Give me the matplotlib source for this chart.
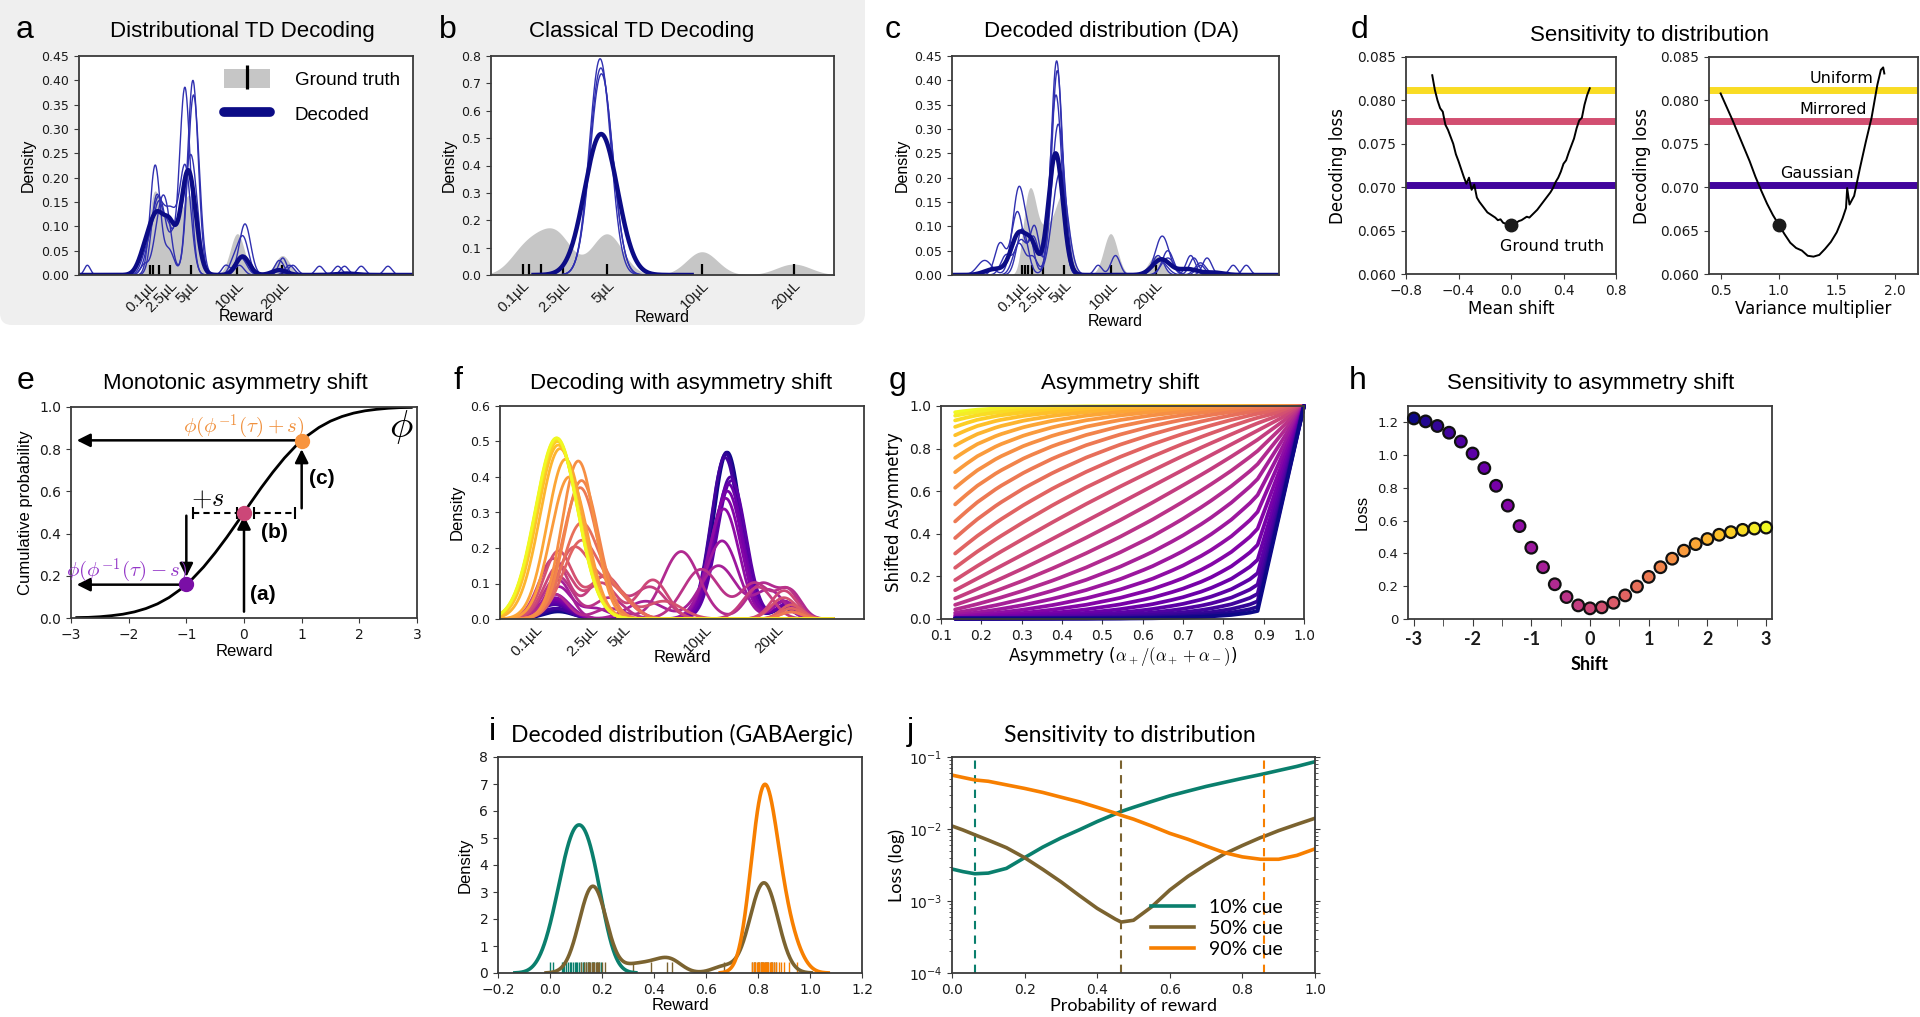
import numpy as np
import matplotlib
matplotlib.use("Agg")
import matplotlib.pyplot as plt
from matplotlib.patches import FancyBboxPatch, Patch
from matplotlib.lines import Line2D
from matplotlib.legend_handler import HandlerTuple
from matplotlib.transforms import IdentityTransform
from matplotlib.ticker import MultipleLocator

# ---------------------------------------------------------------- data
reward_labels = ['0.1µL', '2.5µL', '5µL', '10µL', '20µL']
# reward values on the (transformed) reward axis of each panel, axis units 0..1
rug_a = [0.213, 0.223, 0.240, 0.273, 0.335, 0.474, 0.609]
lab_a = [0.213, 0.273, 0.335, 0.474, 0.609]
rug_b = [0.092, 0.111, 0.146, 0.211, 0.338, 0.615, 0.882]
lab_b = [0.092, 0.211, 0.338, 0.615, 0.882]
rug_c = [0.215, 0.223, 0.232, 0.246, 0.278, 0.343, 0.485, 0.623]
lab_c = [0.215, 0.278, 0.343, 0.485, 0.623]
lab_f = [0.098, 0.249, 0.340, 0.564, 0.760]

# density bumps (centre, height, width)
gt_a = [(0.218, 0.10, 0.013), (0.238, 0.11, 0.016), (0.272, 0.09, 0.02),
        (0.303, 0.05, 0.017), (0.333, 0.15, 0.02), (0.474, 0.085, 0.021),
        (0.609, 0.04, 0.022)]
dec_a_mean = [(0.205, 0.06, 0.022), (0.237, 0.10, 0.02), (0.272, 0.085, 0.017),
              (0.327, 0.215, 0.022), (0.49, 0.038, 0.02), (0.60, 0.01, 0.022),
              (0.80, 0.003, 0.03)]
dec_a_runs = [
    [(0.025, 0.02, 0.009), (0.228, 0.225, 0.015), (0.27, 0.05, 0.015),
     (0.341, 0.40, 0.016), (0.44, 0.02, 0.012), (0.497, 0.105, 0.017),
     (0.61, 0.035, 0.012), (0.72, 0.018, 0.012), (0.845, 0.018, 0.012),
     (0.925, 0.018, 0.012)],
    [(0.231, 0.15, 0.015), (0.265, 0.10, 0.017), (0.317, 0.385, 0.016),
     (0.46, 0.02, 0.012), (0.49, 0.08, 0.017), (0.64, 0.02, 0.014),
     (0.775, 0.018, 0.012)],
    [(0.195, 0.02, 0.012), (0.238, 0.08, 0.017), (0.26, 0.12, 0.017),
     (0.343, 0.37, 0.017), (0.48, 0.02, 0.014), (0.63, 0.02, 0.014),
     (0.795, 0.018, 0.012)],
    [(0.22, 0.08, 0.019), (0.245, 0.12, 0.017), (0.29, 0.09, 0.017),
     (0.335, 0.245, 0.019), (0.485, 0.035, 0.017), (0.60, 0.03, 0.014)],
    [(0.205, 0.05, 0.017), (0.238, 0.13, 0.017), (0.275, 0.12, 0.018),
     (0.318, 0.22, 0.017), (0.476, 0.02, 0.014), (0.495, 0.03, 0.014)],
]
gt_b = [(0.10, 0.09, 0.045), (0.17, 0.11, 0.045), (0.211, 0.06, 0.04),
        (0.338, 0.15, 0.045), (0.615, 0.085, 0.045), (0.882, 0.04, 0.05)]
dec_b_mean = [(0.321, 0.515, 0.048)]
dec_b_runs = [[(0.318, 0.79, 0.031)],
              [(0.32, 0.755, 0.032), (0.37, 0.03, 0.02)],
              [(0.322, 0.735, 0.033)]]
gt_c = [(0.225, 0.08, 0.014), (0.245, 0.13, 0.016), (0.28, 0.08, 0.02),
        (0.31, 0.05, 0.017), (0.34, 0.15, 0.02), (0.485, 0.085, 0.021),
        (0.623, 0.04, 0.022)]
dec_c_mean = [(0.13, 0.012, 0.03), (0.205, 0.085, 0.024), (0.245, 0.05, 0.017),
              (0.317, 0.25, 0.022), (0.64, 0.032, 0.027), (0.72, 0.012, 0.03),
              (0.80, 0.005, 0.03)]
dec_c_runs = [
    [(0.10, 0.03, 0.022), (0.205, 0.18, 0.019), (0.24, 0.05, 0.014),
     (0.32, 0.44, 0.017), (0.447, 0.02, 0.012), (0.50, 0.04, 0.014),
     (0.643, 0.08, 0.021), (0.74, 0.035, 0.014)],
    [(0.147, 0.065, 0.016), (0.20, 0.13, 0.018), (0.252, 0.10, 0.015),
     (0.322, 0.42, 0.017), (0.66, 0.05, 0.017), (0.78, 0.035, 0.014),
     (0.86, 0.02, 0.012)],
    [(0.165, 0.04, 0.016), (0.21, 0.07, 0.017), (0.25, 0.075, 0.015),
     (0.318, 0.37, 0.018), (0.63, 0.04, 0.017), (0.73, 0.04, 0.014),
     (0.90, 0.02, 0.012)],
    [(0.205, 0.065, 0.018), (0.248, 0.035, 0.014), (0.325, 0.31, 0.02),
     (0.66, 0.035, 0.02), (0.76, 0.02, 0.014)],
    [(0.215, 0.095, 0.017), (0.33, 0.21, 0.023), (0.635, 0.03, 0.022),
     (0.76, 0.025, 0.017)],
]

# d: decoding loss
mean_shift = [-0.60, -0.58, -0.56, -0.54, -0.52, -0.50, -0.48, -0.46, -0.44, -0.42,
              -0.40, -0.38, -0.36, -0.34, -0.32, -0.30, -0.28, -0.26, -0.24, -0.22,
              -0.20, -0.18, -0.16, -0.14, -0.12, -0.10, -0.08, -0.06, -0.04, -0.02,
              0.00, 0.02, 0.04, 0.06, 0.08, 0.10, 0.12, 0.14, 0.16, 0.18,
              0.20, 0.22, 0.24, 0.26, 0.28, 0.30, 0.32, 0.34, 0.36, 0.38,
              0.40, 0.42, 0.44, 0.46, 0.48, 0.50, 0.52, 0.54, 0.56, 0.58, 0.60]
loss_mean_shift = [0.0829, 0.0812, 0.0800, 0.0791, 0.0787, 0.0772, 0.0766, 0.0758, 0.0750, 0.0738,
                   0.0730, 0.0721, 0.0712, 0.0704, 0.0711, 0.0697, 0.0703, 0.0688, 0.0683, 0.0679,
                   0.0675, 0.0671, 0.0669, 0.0667, 0.0665, 0.0662, 0.0663, 0.0659, 0.0658, 0.0656,
                   0.0656, 0.0657, 0.0659, 0.0661, 0.0662, 0.0664, 0.0666, 0.0665, 0.0668, 0.0671,
                   0.0674, 0.0678, 0.0682, 0.0686, 0.0690, 0.0694, 0.0699, 0.0706, 0.0711, 0.0718,
                   0.0727, 0.0731, 0.0740, 0.0748, 0.0756, 0.0768, 0.0777, 0.0780, 0.0795, 0.0806,
                   0.0814]
var_mult = [0.50, 0.55, 0.60, 0.65, 0.70, 0.75, 0.80, 0.85, 0.90, 0.95, 1.00, 1.05,
            1.10, 1.15, 1.20, 1.25, 1.30, 1.35, 1.40, 1.45, 1.50, 1.55, 1.58, 1.59,
            1.61, 1.65, 1.70, 1.75, 1.80, 1.85, 1.88, 1.90, 1.91]
loss_var_mult = [0.0808, 0.0793, 0.0778, 0.0762, 0.0746, 0.0730, 0.0712, 0.0696, 0.0681,
                 0.0668, 0.0657, 0.0646, 0.0636, 0.0630, 0.0627, 0.0621, 0.0620, 0.0622,
                 0.0629, 0.0637, 0.0648, 0.0664, 0.0676, 0.0699, 0.0680, 0.0690, 0.0722,
                 0.0752, 0.0780, 0.0818, 0.0835, 0.0838, 0.0831]
ref_names = ['Uniform', 'Mirrored', 'Gaussian']
ref_loss = [0.0812, 0.0776, 0.0703]

# e: cumulative distribution phi
phi_x = [-2.9, -2.7, -2.5, -2.3, -2.1, -1.9, -1.7, -1.5, -1.3, -1.1, -0.9, -0.7, -0.5,
         -0.3, -0.1, 0.1, 0.3, 0.5, 0.7, 0.9, 1.1, 1.3, 1.5, 1.7, 1.9, 2.1, 2.3, 2.5,
         2.7, 2.9]
phi_y = [0.002, 0.003, 0.006, 0.011, 0.018, 0.029, 0.045, 0.067, 0.097, 0.136, 0.184,
         0.242, 0.309, 0.382, 0.460, 0.540, 0.618, 0.691, 0.758, 0.816, 0.864, 0.903,
         0.933, 0.955, 0.971, 0.982, 0.989, 0.994, 0.997, 0.998]

# f: decoded densities for each asymmetry shift (shift -3 ... +3)
dec_f = [
    [(0.625, 0.47, 0.038), (0.16, 0.02, 0.04), (0.78, 0.03, 0.03)],
    [(0.622, 0.47, 0.038), (0.16, 0.025, 0.04), (0.78, 0.03, 0.03)],
    [(0.620, 0.465, 0.039), (0.16, 0.03, 0.04), (0.78, 0.035, 0.03)],
    [(0.618, 0.455, 0.039), (0.15, 0.03, 0.04), (0.78, 0.035, 0.03)],
    [(0.633, 0.40, 0.040), (0.15, 0.04, 0.04), (0.79, 0.04, 0.03)],
    [(0.636, 0.39, 0.040), (0.15, 0.045, 0.04), (0.79, 0.04, 0.03)],
    [(0.628, 0.38, 0.040), (0.15, 0.05, 0.04), (0.79, 0.045, 0.03)],
    [(0.625, 0.36, 0.041), (0.15, 0.055, 0.04), (0.78, 0.05, 0.03)],
    [(0.620, 0.34, 0.042), (0.15, 0.06, 0.04), (0.78, 0.05, 0.03)],
    [(0.615, 0.31, 0.042), (0.15, 0.07, 0.04), (0.78, 0.05, 0.03)],
    [(0.16, 0.09, 0.035), (0.26, 0.03, 0.04), (0.61, 0.22, 0.045), (0.78, 0.05, 0.03)],
    [(0.16, 0.11, 0.035), (0.40, 0.05, 0.05), (0.60, 0.15, 0.05), (0.74, 0.08, 0.04)],
    [(0.15, 0.07, 0.035), (0.30, 0.03, 0.04), (0.498, 0.19, 0.05), (0.72, 0.10, 0.04),
     (0.80, 0.07, 0.03)],
    [(0.16, 0.12, 0.04), (0.30, 0.06, 0.04), (0.553, 0.14, 0.05), (0.70, 0.10, 0.04),
     (0.79, 0.08, 0.03)],
    [(0.147, 0.17, 0.04), (0.284, 0.12, 0.04), (0.412, 0.09, 0.045), (0.709, 0.09, 0.04)],
    [(0.161, 0.15, 0.04), (0.28, 0.10, 0.04), (0.42, 0.11, 0.04), (0.78, 0.08, 0.035)],
    [(0.16, 0.19, 0.04), (0.29, 0.12, 0.045), (0.45, 0.05, 0.05), (0.78, 0.06, 0.035)],
    [(0.20, 0.19, 0.045), (0.30, 0.09, 0.05), (0.80, 0.04, 0.03)],
    [(0.224, 0.22, 0.05), (0.33, 0.06, 0.04), (0.80, 0.03, 0.03)],
    [(0.224, 0.27, 0.05), (0.33, 0.05, 0.04), (0.80, 0.02, 0.03)],
    [(0.22, 0.37, 0.048), (0.80, 0.02, 0.03)],
    [(0.224, 0.39, 0.047)],
    [(0.215, 0.445, 0.045)],
    [(0.19, 0.40, 0.05)],
    [(0.18, 0.45, 0.05)],
    [(0.165, 0.48, 0.055)],
    [(0.16, 0.49, 0.057)],
    [(0.158, 0.50, 0.058)],
    [(0.156, 0.505, 0.058)],
    [(0.156, 0.51, 0.058)],
    [(0.155, 0.51, 0.058)],
]

# g/h: asymmetry shifts
shifts = [-3.0, -2.8, -2.6, -2.4, -2.2, -2.0, -1.8, -1.6, -1.4, -1.2, -1.0, -0.8, -0.6,
          -0.4, -0.2, 0.0, 0.2, 0.4, 0.6, 0.8, 1.0, 1.2, 1.4, 1.6, 1.8, 2.0, 2.2, 2.4,
          2.6, 2.8, 3.0]
asymmetry = [0.135, 0.15, 0.164, 0.19, 0.21, 0.235, 0.25, 0.267, 0.285, 0.304, 0.325,
             0.345, 0.358, 0.375, 0.395, 0.41, 0.428, 0.436, 0.46, 0.48, 0.494, 0.52,
             0.545, 0.569, 0.585, 0.602, 0.625, 0.647, 0.672, 0.70, 0.72, 0.745, 0.77,
             0.795, 0.82, 0.85, 0.866, 0.885, 1.0]
shift_loss = [1.224, 1.206, 1.178, 1.137, 1.083, 1.010, 0.921, 0.813, 0.692, 0.567,
              0.435, 0.316, 0.212, 0.134, 0.083, 0.065, 0.071, 0.099, 0.144, 0.198,
              0.257, 0.316, 0.368, 0.417, 0.457, 0.488, 0.514, 0.530, 0.544, 0.552,
              0.558]

# i: decoded reward samples (GABAergic)
samples_10 = [0.0, 0.01, 0.045, 0.05, 0.055, 0.06, 0.07, 0.075, 0.08, 0.09, 0.095, 0.10,
              0.105, 0.11, 0.12, 0.125, 0.13, 0.14, 0.145, 0.15, 0.16, 0.165, 0.17, 0.18,
              0.19, 0.195]
samples_50 = [0.12, 0.13, 0.14, 0.145, 0.15, 0.155, 0.16, 0.165, 0.17, 0.175, 0.18, 0.185,
              0.19, 0.20, 0.21, 0.32, 0.39, 0.45, 0.47, 0.67, 0.775, 0.785, 0.79,
              0.80, 0.805, 0.81, 0.815, 0.82, 0.825, 0.83, 0.835, 0.84, 0.85, 0.855,
              0.86, 0.87]
samples_90 = [0.775, 0.785, 0.79, 0.795, 0.80, 0.805, 0.81, 0.812, 0.815, 0.82, 0.822,
              0.825, 0.83, 0.835, 0.84, 0.845, 0.85, 0.855, 0.86, 0.87, 0.88, 0.89, 0.90,
              0.92, 0.95]

# j: loss vs probability of reward
prob = [0.0, 0.03, 0.063, 0.1, 0.15, 0.2, 0.25, 0.3, 0.35, 0.4, 0.45, 0.466, 0.5, 0.55,
        0.6, 0.65, 0.7, 0.75, 0.8, 0.85, 0.86, 0.9, 0.95, 1.0]
loss_10 = [2.78e-3, 2.56e-3, 2.39e-3, 2.44e-3, 2.84e-3, 4.0e-3, 5.6e-3, 7.5e-3, 9.7e-3,
           1.27e-2, 1.62e-2, 1.75e-2, 2.0e-2, 2.41e-2, 2.89e-2, 3.36e-2, 3.9e-2, 4.44e-2,
           5.05e-2, 5.7e-2, 5.85e-2, 6.5e-2, 7.4e-2, 8.6e-2]
loss_50 = [1.10e-2, 9.7e-3, 8.3e-3, 7.0e-3, 5.5e-3, 4.0e-3, 2.75e-3, 1.85e-3, 1.2e-3,
           7.9e-4, 5.6e-4, 5.1e-4, 5.4e-4, 8.3e-4, 1.42e-3, 2.2e-3, 3.2e-3, 4.5e-3,
           5.9e-3, 7.6e-3, 7.9e-3, 9.5e-3, 1.16e-2, 1.41e-2]
loss_90 = [5.6e-2, 5.2e-2, 4.8e-2, 4.6e-2, 4.1e-2, 3.66e-2, 3.22e-2, 2.77e-2, 2.39e-2,
           2.0e-2, 1.66e-2, 1.55e-2, 1.37e-2, 1.1e-2, 8.7e-3, 7.2e-3, 5.8e-3, 4.7e-3,
           4.1e-3, 3.8e-3, 3.8e-3, 3.8e-3, 4.3e-3, 5.3e-3]
cue_names = ['10% cue', '50% cue', '90% cue']
best_prob = [0.063, 0.466, 0.86]

# ---------------------------------------------------------------- style
W, H = 1920, 1017
HELV = 'Liberation Sans'
FUT = 'Lato'
NAVY = '#0c0c86'
THIN = '#3030b0'
GRAY = '#c6c6c6'
TEAL, BROWN, ORANGE = '#0a7f6d', '#7b6330', '#f77f00'

plt.rcParams['font.family'] = 'DejaVu Sans'
plt.rcParams['mathtext.fontset'] = 'cm'
plt.rcParams['axes.linewidth'] = 1.3
plt.rcParams['axes.edgecolor'] = '#3a3a3a'
plt.rcParams['xtick.color'] = '#3a3a3a'
plt.rcParams['ytick.color'] = '#3a3a3a'
plt.rcParams['xtick.labelcolor'] = '#1a1a1a'
plt.rcParams['ytick.labelcolor'] = '#1a1a1a'

fig = plt.figure(figsize=(W / 100, H / 100), dpi=100)
fig.add_artist(FancyBboxPatch((0, H - 325), 865, 360,
                              boxstyle='round,pad=0,rounding_size=12',
                              transform=IdentityTransform(), facecolor='#efefef',
                              edgecolor='none', zorder=-10))


def add_ax(box):
    x0, y0, x1, y1 = box
    return fig.add_axes([x0 / W, 1 - y1 / H, (x1 - x0) / W, (y1 - y0) / H])


def labels(ax, box, xlabel, ylabel, xl_y, yl_x, size=11.5, family=HELV):
    x0, y0, x1, y1 = box
    ax.set_xlabel(xlabel, fontsize=size, family=family)
    ax.set_ylabel(ylabel, fontsize=size, family=family)
    ax.xaxis.set_label_coords(0.5, (y1 - xl_y) / (y1 - y0))
    ax.yaxis.set_label_coords((yl_x - x0) / (x1 - x0), 0.5)
    ax.xaxis.label.set_va('center')
    ax.yaxis.label.set_va('center')


def head(x, y, title, size=16, family=HELV):
    fig.text(x / W, 1 - y / H, title, ha='center', va='center', fontsize=size,
             family=family)


def letter(x, y, s):
    fig.text(x / W, 1 - y / H, s, ha='center', va='center', fontsize=23, family=HELV)


def bumps(x, spec):
    y = np.zeros_like(x)
    for c, h, w in spec:
        y += h * np.exp(-0.5 * ((x - c) / w) ** 2)
    return y


def kde(samples, bw, n=400):
    s = np.asarray(samples)
    x = np.linspace(s.min() - 3 * bw, s.max() + 3 * bw, n)
    y = np.exp(-0.5 * ((x[:, None] - s[None, :]) / bw) ** 2).sum(1)
    return x, y / (len(s) * bw * np.sqrt(2 * np.pi))


def reward_axis(ax, rug, lab, length=7):
    ax.set_xlim(0, 1)
    ax.set_xticks(lab)
    ax.set_xticklabels(reward_labels, rotation=45, ha='right', rotation_mode='anchor',
                       fontsize=10.8, family=HELV)
    ax.set_xticks([r for r in rug if r not in lab], minor=True)
    ax.tick_params(axis='x', which='both', direction='in', length=length, width=1.6,
                   color='k', pad=2.5)


plasma = plt.get_cmap('plasma')
xs = np.linspace(0, 1, 900)

# ---------------------------------------------------------------- a
box = (79, 56, 413, 275)
ax = add_ax(box)
ax.fill_between(xs, bumps(xs, gt_a), color=GRAY, lw=0)
for spec in dec_a_runs:
    ax.plot(xs, bumps(xs, spec), color=THIN, lw=1)
ax.plot(xs, bumps(xs, dec_a_mean), color=NAVY, lw=3.2)
ax.set_ylim(0, 0.45)
ax.set_yticks(np.arange(0, 0.451, 0.05))
ax.tick_params(axis='y', labelsize=9)
reward_axis(ax, rug_a, lab_a)
gt_handle = (Patch(facecolor=GRAY, edgecolor='none'),
             Line2D([], [], color='k', marker='|', ms=17, mew=2.3, ls='none'))
dec_handle = Line2D([], [], color=NAVY, lw=7, solid_capstyle='round')
ax.legend([gt_handle, dec_handle], ['Ground truth', 'Decoded'],
          handler_map={tuple: HandlerTuple(ndivide=1)}, loc='upper right',
          frameon=False, prop=dict(family=HELV, size=13.5), handlelength=2.5,
          handleheight=1.2, labelspacing=0.8, borderaxespad=0.3, handletextpad=1.3)
labels(ax, box, 'Reward', 'Density', 316, 28)
head(242, 32, 'Distributional TD Decoding')
letter(25, 30, 'a')

# ---------------------------------------------------------------- b
box = (491, 56, 834, 275)
ax = add_ax(box)
ax.fill_between(xs, bumps(xs, gt_b), color=GRAY, lw=0)
xb = np.linspace(0.124, 0.585, 400)
for spec in dec_b_runs:
    ax.plot(xb, bumps(xb, spec), color=THIN, lw=1)
ax.plot(xb, bumps(xb, dec_b_mean), color=NAVY, lw=3.2)
ax.set_ylim(0, 0.8)
ax.set_yticks(np.arange(0, 0.81, 0.1))
ax.tick_params(axis='y', labelsize=9)
reward_axis(ax, rug_b, lab_b, length=8)
labels(ax, box, 'Reward', 'Density', 317, 449)
head(642, 32, 'Classical TD Decoding')
letter(448, 30, 'b')

# ---------------------------------------------------------------- c
box = (952, 56, 1279, 275)
ax = add_ax(box)
ax.fill_between(xs, bumps(xs, gt_c), color=GRAY, lw=0)
for spec in dec_c_runs:
    ax.plot(xs, bumps(xs, spec), color=THIN, lw=1)
ax.plot(xs, bumps(xs, dec_c_mean), color=NAVY, lw=3.2)
ax.set_ylim(0, 0.45)
ax.set_yticks(np.arange(0, 0.451, 0.05))
ax.tick_params(axis='y', labelsize=9)
reward_axis(ax, rug_c, lab_c)
labels(ax, box, 'Reward', 'Density', 321, 902)
head(1112, 32, 'Decoded distribution (DA)')
letter(893, 30, 'c')

# ---------------------------------------------------------------- d
ref_colors = [plasma(0.93), plasma(0.53), plasma(0.1)]
box = (1406, 57, 1616, 274)
ax = add_ax(box)
for y, col in zip(ref_loss, ref_colors):
    ax.axhline(y, color=col, lw=5)
ax.plot(mean_shift, loss_mean_shift, color='k', lw=1.4)
i0 = mean_shift.index(0.0)
ax.plot(mean_shift[i0], loss_mean_shift[i0], 'o', color='#1a1a1a', ms=9, zorder=5)
ax.text(0.31, 0.0632, 'Ground truth', ha='center', va='center', fontsize=11.5)
ax.set_xlim(-0.8, 0.8)
ax.set_ylim(0.060, 0.085)
ax.set_xticks([-0.8, -0.4, 0.0, 0.4, 0.8])
ax.set_yticks(np.arange(0.060, 0.0851, 0.005))
ax.tick_params(labelsize=9.8)
labels(ax, box, 'Mean shift', 'Decoding loss', 309, 1338, size=12, family='DejaVu Sans')

box = (1709, 57, 1918, 274)
ax = add_ax(box)
for y, col in zip(ref_loss, ref_colors):
    ax.axhline(y, color=col, lw=5)
ax.plot(var_mult, loss_var_mult, color='k', lw=1.4)
i1 = var_mult.index(1.0)
ax.plot(var_mult[i1], loss_var_mult[i1], 'o', color='#1a1a1a', ms=9, zorder=5)
for name, y, xr in zip(ref_names, ref_loss, [1.82, 1.76, 1.65]):
    ax.text(xr, y + 0.0013, name, ha='right', va='center', fontsize=11.5)
ax.set_xlim(0.4, 2.2)
ax.set_ylim(0.060, 0.085)
ax.set_xticks([0.5, 1.0, 1.5, 2.0])
ax.set_yticks(np.arange(0.060, 0.0851, 0.005))
ax.tick_params(labelsize=9.8)
labels(ax, box, 'Variance multiplier', 'Decoding loss', 309, 1642, size=12,
       family='DejaVu Sans')
head(1649, 35, 'Sensitivity to distribution')
letter(1359, 30, 'd')

# ---------------------------------------------------------------- e
box = (71, 407, 417, 618)
ax = add_ax(box)
ax.plot(phi_x, phi_y, color='k', lw=2)
arrow = dict(arrowstyle='-|>', color='k', lw=1.8, mutation_scale=20, shrinkA=0,
             shrinkB=0)
ax.annotate('', xy=(0, 0.485), xytext=(0, 0.03), arrowprops=arrow)
ax.annotate('', xy=(-1, 0.195), xytext=(-1, 0.485), arrowprops=arrow)
ax.annotate('', xy=(1, 0.80), xytext=(1, 0.52), arrowprops=arrow)
ax.annotate('', xy=(-2.9, 0.842), xytext=(0.98, 0.842), arrowprops=arrow)
ax.annotate('', xy=(-2.9, 0.158), xytext=(-1.05, 0.158), arrowprops=arrow)
for xa, xb_ in [(-0.89, -0.12), (0.17, 0.89)]:
    ax.plot([xa, xb_], [0.497, 0.497], color='k', lw=1.5, ls=(0, (3, 2)))
    ax.plot([xa, xb_], [0.497, 0.497], color='k', marker='|', ms=8, mew=1.5, ls='none')
for (px, py), col in zip([(-1, 0.159), (0, 0.5), (1, 0.841)],
                         ['#7a0fa6', '#cc4778', '#f89540']):
    ax.plot(px, py, 'o', color=col, ms=10, zorder=6)
ax.text(0.0, 0.905, r'$\phi(\phi^{-1}(\tau)+s)$', color='#f0913e', fontsize=15,
        ha='center', va='center')
ax.text(-2.04, 0.225, r'$\phi(\phi^{-1}(\tau)-s)$', color='#9437c8', fontsize=15,
        ha='center', va='center')
ax.text(-0.62, 0.565, r'$+s$', fontsize=19, ha='center', va='center')
ax.text(2.73, 0.905, r'$\phi$', fontsize=28, ha='center', va='center')
for s, (tx, ty) in zip(['(a)', '(b)', '(c)'], [(0.33, 0.11), (0.53, 0.405), (1.35, 0.66)]):
    ax.text(tx, ty, s, fontsize=15, weight='bold', family=HELV, ha='center', va='center')
ax.set_xlim(-3, 3)
ax.set_ylim(0, 1)
ax.set_xticks(range(-3, 4))
ax.set_yticks(np.arange(0, 1.01, 0.2))
ax.tick_params(labelsize=10)
labels(ax, box, 'Reward', 'Cumulative probability', 652, 26, size=12)
head(235, 383, 'Monotonic asymmetry shift')
letter(25, 381, 'e')

# ---------------------------------------------------------------- f
box = (500, 406, 864, 619)
ax = add_ax(box)
xf = np.linspace(0, 0.915, 700)
for s, spec in zip(shifts, dec_f):
    ax.plot(xf, bumps(xf, spec), color=plasma((s + 3) / 6), lw=2)
ax.set_ylim(0, 0.6)
ax.set_yticks(np.arange(0, 0.61, 0.1))
ax.tick_params(axis='y', labelsize=9)
reward_axis(ax, [], lab_f, length=0)
labels(ax, box, 'Reward', 'Density', 658, 457, size=12)
head(681, 383, 'Decoding with asymmetry shift')
letter(458, 381, 'f')

# ---------------------------------------------------------------- g
box = (941, 406, 1304, 619)
ax = add_ax(box)
tau = np.array(asymmetry)
z = np.interp(tau, phi_y, phi_x)
for s in shifts[::-1]:
    shifted = np.where(tau >= 1.0, 1.0, np.interp(z + s, phi_x, phi_y))
    ax.plot(tau, shifted, color=plasma((s + 3) / 6), lw=2.7, clip_on=False,
            solid_capstyle='round')
ax.set_xlim(0.1, 1.0)
ax.set_ylim(0, 1)
ax.set_xticks(np.arange(0.1, 1.01, 0.1))
ax.set_yticks(np.arange(0, 1.01, 0.2))
ax.tick_params(labelsize=10)
labels(ax, box, r'Asymmetry ($\alpha_+/(\alpha_+ + \alpha_-)$)', 'Shifted Asymmetry',
       656, 894, size=12, family='DejaVu Sans')
head(1120, 383, 'Asymmetry shift')
letter(897, 381, 'g')

# ---------------------------------------------------------------- h
box = (1408, 406, 1772, 619)
ax = add_ax(box)
ax.scatter(shifts, shift_loss, c=shifts, cmap='plasma', vmin=-3, vmax=3, s=70,
           edgecolors='#111111', linewidths=1.6, zorder=3, clip_on=False)
ax.set_xlim(-3.1, 3.1)
ax.set_ylim(0, 1.3)
ax.set_xticks(range(-3, 4))
ax.set_xticklabels(['-3', '-2', '-1', '0', '1', '2', '3'], family=FUT, weight='bold',
                   fontsize=13)
ax.xaxis.set_minor_locator(MultipleLocator(0.5))
ax.tick_params(axis='x', which='both', length=5)
ax.set_yticks(np.arange(0, 1.21, 0.2))
ax.set_yticklabels(['0', '0.2', '0.4', '0.6', '0.8', '1.0', '1.2'], fontsize=9.5)
labels(ax, box, 'Shift', 'Loss', 664, 1362, size=12)
ax.xaxis.label.set_family(FUT)
ax.xaxis.label.set_weight('bold')
ax.xaxis.label.set_size(13)
head(1591, 383, 'Sensitivity to asymmetry shift')
letter(1358, 381, 'h')

# ---------------------------------------------------------------- i
box = (498, 757, 862, 973)
ax = add_ax(box)
series_i = [(samples_10, TEAL, 0.045), (samples_50, BROWN, 0.045),
            (samples_90, ORANGE, 0.04)]
for smp, col, bw in series_i:
    ax.vlines(smp, 0, 0.4, color=col, lw=1)
for smp, col, bw in series_i:
    kx, ky = kde(smp, bw)
    ax.plot(kx, ky, color=col, lw=2.6)
ax.set_xlim(-0.2, 1.2)
ax.set_ylim(0, 8)
ax.set_xticks(np.arange(-0.2, 1.21, 0.2))
ax.set_yticks(range(0, 9))
ax.tick_params(labelsize=10)
labels(ax, box, 'Reward', 'Density', 1005, 465, size=12)
head(682, 735, 'Decoded distribution (GABAergic)', size=16.5, family=FUT)
letter(492, 732, 'i')

# ---------------------------------------------------------------- j
box = (952, 757, 1315, 973)
ax = add_ax(box)
for loss, col, name, bp in zip([loss_10, loss_50, loss_90], [TEAL, BROWN, ORANGE],
                               cue_names, best_prob):
    ax.axvline(bp, color=col, lw=1.5, ls=(0, (4, 3)))
    ax.plot(prob, loss, color=col, lw=2.6, label=name)
ax.set_yscale('log')
ax.set_xlim(0, 1)
ax.set_ylim(1e-4, 1e-1)
ax.set_xticks(np.arange(0, 1.01, 0.2))
ax.tick_params(labelsize=10)
ax.tick_params(axis='y', which='both', right=True)
ax.legend(loc='lower left', bbox_to_anchor=(0.5, -0.01), frameon=False,
          prop=dict(family=FUT, size=14), handlelength=2.2, labelspacing=0.2,
          handletextpad=0.8)
labels(ax, box, 'Probability of reward', 'Loss (log)', 1006, 897, size=13, family=FUT)
head(1130, 735, 'Sensitivity to distribution', size=16.5, family=FUT)
letter(910, 732, 'j')

fig.savefig('out.png', dpi=100)
